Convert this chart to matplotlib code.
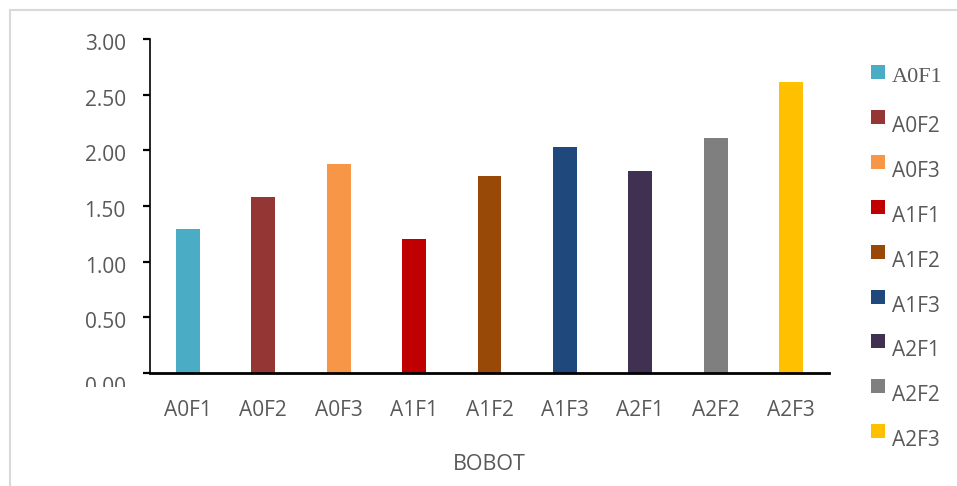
import matplotlib
matplotlib.use("Agg")
import matplotlib.pyplot as plt
from matplotlib.patches import Rectangle
from matplotlib.lines import Line2D
from matplotlib.transforms import Bbox, ScaledTranslation

categories = ["A0F1", "A0F2", "A0F3", "A1F1", "A1F2", "A1F3", "A2F1", "A2F2", "A2F3"]
values = [1.29, 1.58, 1.88, 1.20, 1.77, 2.03, 1.81, 2.11, 2.61]
colors = ["#4BACC6", "#943634", "#F79646", "#C00000", "#984807",
          "#1F497D", "#403152", "#7F7F7F", "#FFC000"]
yticks = [0.0, 0.5, 1.0, 1.5, 2.0, 2.5, 3.0]
xlabel = "BOBOT"

W, H = 957, 486
TEXT = "#595959"
SANS = ["Open Sans", "DejaVu Sans"]

fig = plt.figure(figsize=(W / 100, H / 100), dpi=100)
fig.patch.set_facecolor("white")

def px(x, y):
    return x / W, 1 - y / H

# plot area in pixel coordinates
left, right, top, bottom = 150, 829, 39, 373
ax = fig.add_axes([left / W, 1 - bottom / H, (right - left) / W, (bottom - top) / H])

xs = list(range(len(categories)))
ax.bar(xs, values, width=0.318, color=colors, zorder=2)

ax.set_xlim(-0.5, len(categories) - 0.5)
ax.set_ylim(0, 3)
ax.set_yticks(yticks)
ax.set_yticklabels([f"{v:.2f}" for v in yticks])
ax.set_xticks(xs)
ax.set_xticklabels(categories)

for s in ["top", "right"]:
    ax.spines[s].set_visible(False)
ax.spines["left"].set_linewidth(1.2)
ax.spines["bottom"].set_linewidth(2.0)
ax.spines["left"].set_color("black")
ax.spines["bottom"].set_color("black")

ax.tick_params(axis="y", length=5, width=1.6, color="black", pad=12.5,
               labelsize=15, labelcolor=TEXT)
ax.tick_params(axis="x", length=0, pad=19.5, labelsize=15, labelcolor=TEXT)
for lbl in ax.get_xticklabels() + ax.get_yticklabels():
    lbl.set_family(SANS)

# value labels sit slightly below their tick marks; the lowest one sits
# lower still and is cut off along its lower part
ticks = ax.yaxis.get_major_ticks()
for k, tick in enumerate(ticks):
    dy = 12 if k == 0 else 3
    shift = ScaledTranslation(0, -dy / 100, fig.dpi_scale_trans)
    tick.label1.set_transform(tick.label1.get_transform() + shift)
ticks[0].label1.set_clip_box(Bbox.from_extents(0, H - 387, W, H))
ticks[0].label1.set_clip_on(True)

ax.set_xlabel(xlabel, fontsize=15.5, color=TEXT, family=SANS, labelpad=24)

# legend drawn as a column of swatches
tops = [65 + i * 44.9 for i in range(len(categories))]
for i, (name, c) in enumerate(zip(categories, colors)):
    t = tops[i]
    x0, y0 = px(871, t + 14)
    fig.add_artist(Rectangle((x0, y0), 14 / W, 14 / H, transform=fig.transFigure,
                             facecolor=c, edgecolor="none"))
    if i == 0:
        tx, ty = px(892, t + 17)
        fig.text(tx, ty, name, fontsize=16, color=TEXT,
                 family=["Liberation Serif", "DejaVu Serif"], va="baseline", ha="left")
    else:
        tx, ty = px(892, t + 22)
        fig.text(tx, ty, name, fontsize=15, color=TEXT,
                 family=SANS, va="baseline", ha="left")

# outer frame of the chart area
bx, by = px(10, 10)
fig.add_artist(Line2D([bx, bx], [0, by], transform=fig.transFigure,
                      color="#D9D9D9", lw=1.5))
fig.add_artist(Line2D([bx, 1], [by, by], transform=fig.transFigure,
                      color="#D9D9D9", lw=1.5))

fig.savefig("out.png", dpi=100, facecolor="white")
